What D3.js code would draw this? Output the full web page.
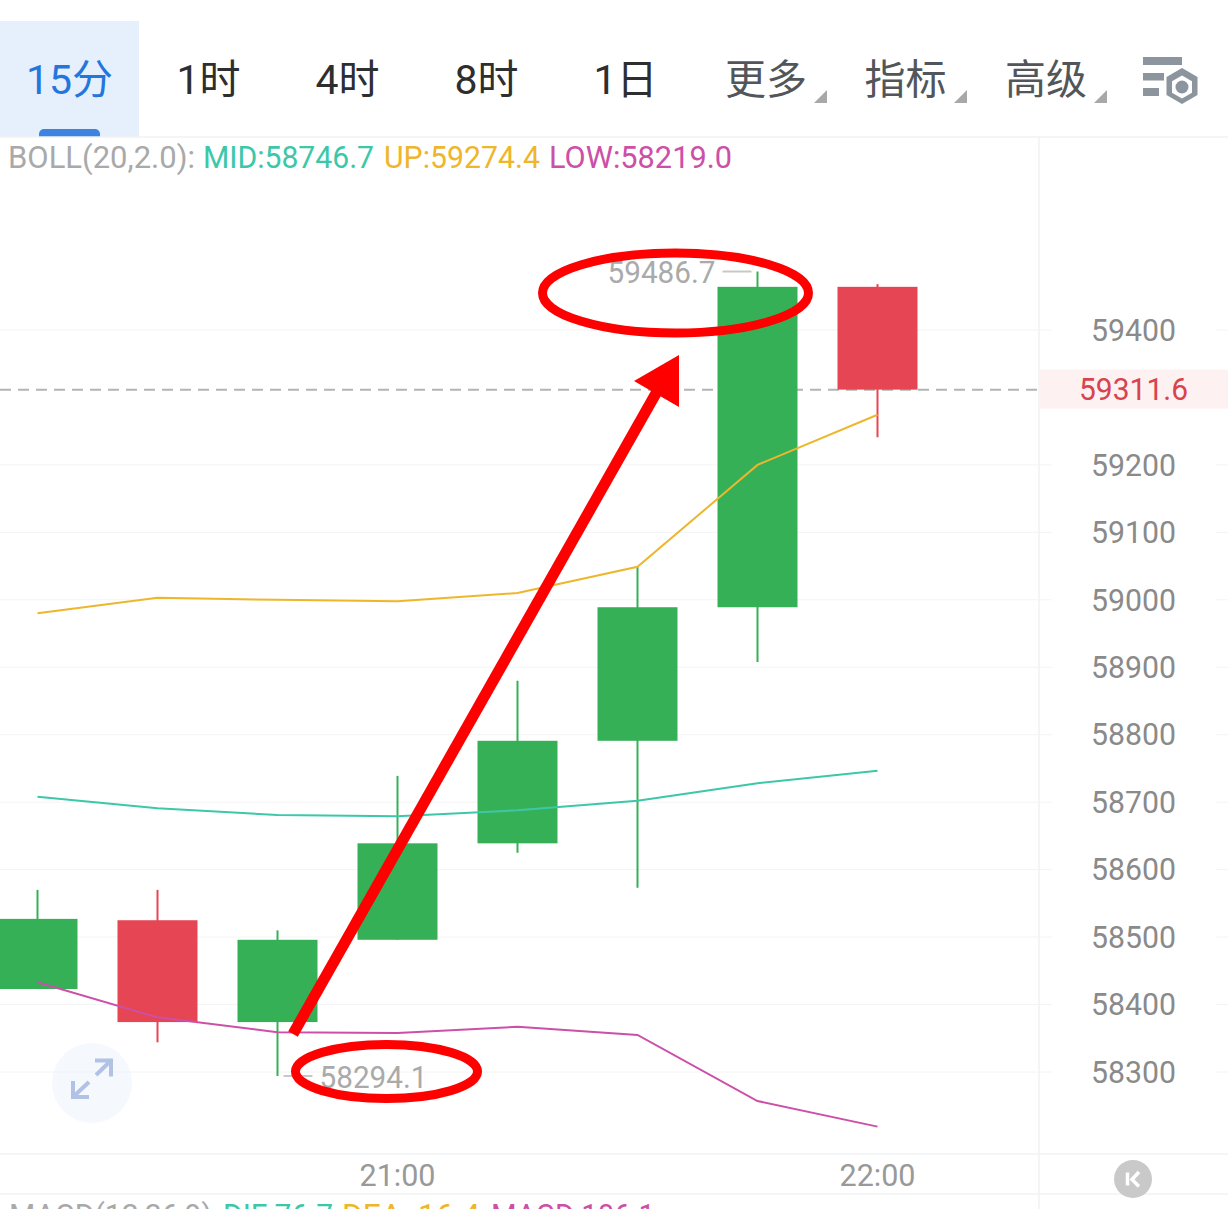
<!DOCTYPE html>
<html>
<head>
<meta charset="utf-8">
<script src="https://cdn.jsdelivr.net/npm/d3@7/dist/d3.min.js"></script>
<style>
  html, body { margin: 0; padding: 0; background: #fff; overflow: hidden; }
  svg { display: block; }
  text { font-family: Roboto, "Noto Sans CJK SC", sans-serif; }
</style>
</head>
<body>
<svg id="chart" width="1228" height="1209"></svg>
<script>
// 15-minute candles with Bollinger bands
const opens  = [58423, 58525, 58374, 58496, 58639, 58791, 58989, 59464];
const closes = [58527, 58374, 58496, 58639, 58791, 58989, 59464, 59311.6];
const highs  = [58570, 58570, 58510, 58739, 58880, 59050, 59486.7, 59468];
const lows   = [58423, 58344, 58294.1, 58496, 58625, 58573, 58908, 59241];
const bollUp  = [58980, 59003, 59000, 58998, 59010, 59049, 59200, 59274.4];
const bollMid = [58708, 58691, 58681, 58679, 58688, 58702, 58728, 58746.7];
const bollLow = [58433, 58381, 58359, 58358, 58367, 58355, 58257, 58219];
const priceTicks = [59400, 59200, 59100, 59000, 58900, 58800, 58700, 58600, 58500, 58400, 58300];
const timeLabels = [{ index: 3, label: "21:00" }, { index: 7, label: "22:00" }];
const tabs = ["15分", "1时", "4时", "8时", "1日"];
const menus = ["更多", "指标", "高级"];
const lastPrice = 59311.6;
const highPrice = 59486.7;
const lowPrice = 58294.1;

const up = "#36b057", down = "#e64553";
const plotRight = 1039;

const svg = d3.select("#chart");
const x = d3.scaleLinear().domain([0, 7]).range([37.5, 877.5]);
const y = d3.scaleLinear().domain([58300, 59400]).range([1072, 330]);
const candleWidth = 80;

// Top tab bar
const header = svg.append("g");
header.append("rect").attr("x", 0).attr("y", 21).attr("width", 139).attr("height", 116).attr("fill", "#e6effc");
header.append("path").attr("d", "M39 137v-3a5 5 0 0 1 5-5h51a5 5 0 0 1 5 5v3z").attr("fill", "#3f83e0");
const tabX = d3.scalePoint().domain(tabs).range([69.5, 625.5]);
header.selectAll("text.tab").data(tabs).join("text").attr("class", "tab")
  .attr("x", d => tabX(d)).attr("y", 94).attr("text-anchor", "middle")
  .attr("font-size", 41).attr("fill", (d, i) => i === 0 ? "#2476dc" : "#2c2e30").text(d => d);
const menuX = d3.scalePoint().domain(menus).range([766, 1046]);
header.selectAll("text.menu").data(menus).join("text").attr("class", "menu")
  .attr("x", (d, i) => menuX(d) - (i === 1 ? 0.5 : 0)).attr("y", 94).attr("text-anchor", "middle")
  .attr("font-size", 41).attr("fill", "#52565a").text(d => d);
header.selectAll("path.caret").data(menus).join("path").attr("class", "caret")
  .attr("transform", d => `translate(${menuX(d) + 49},90)`)
  .attr("d", "M12 0v13h-13z").attr("fill", "#a8a8a8");

// Settings glyph: three bars and a hex nut
const gear = header.append("g").attr("fill", "#8c949e");
gear.append("rect").attr("x", 1143).attr("y", 57).attr("width", 39).attr("height", 8);
gear.append("rect").attr("x", 1143).attr("y", 73).attr("width", 21).attr("height", 7.5);
gear.append("rect").attr("x", 1143).attr("y", 88).attr("width", 16).attr("height", 8);
gear.append("path").attr("d", "M1182 68l15.5 9v18l-15.5 9-15.5-9v-18z");
gear.append("path").attr("d", "M1182 75.5l10 5.7v11.6l-10 5.7-10-5.7v-11.6z").attr("fill", "#fff");
gear.append("circle").attr("cx", 1182).attr("cy", 87).attr("r", 6.5);

// Panel frame
const frame = svg.append("g").attr("stroke", "#f1f2f4").attr("stroke-width", 1.5);
frame.append("line").attr("x1", 0).attr("x2", 1228).attr("y1", 137).attr("y2", 137);
frame.append("line").attr("x1", 0).attr("x2", 1228).attr("y1", 1154).attr("y2", 1154);
frame.append("line").attr("x1", 0).attr("x2", 1228).attr("y1", 1194).attr("y2", 1194);
frame.append("line").attr("x1", plotRight).attr("x2", plotRight).attr("y1", 137).attr("y2", 1209);

// Price gridlines
const grid = svg.append("g").attr("stroke", "#f3f4f5").attr("stroke-width", 1);
grid.selectAll("line.main").data(priceTicks).join("line").attr("class", "main")
  .attr("x1", 0).attr("x2", 1052).attr("y1", d => y(d)).attr("y2", d => y(d));
grid.selectAll("line.edge").data(priceTicks).join("line").attr("class", "edge")
  .attr("x1", 1216).attr("x2", 1228).attr("y1", d => y(d)).attr("y2", d => y(d));

// Last-price marker, under the candles
svg.append("rect").attr("x", plotRight + 1).attr("y", y(lastPrice) - 20).attr("width", 189).attr("height", 39).attr("fill", "#fdf1f1");
svg.append("line").attr("x1", 0).attr("x2", plotRight).attr("y1", y(lastPrice)).attr("y2", y(lastPrice))
  .attr("stroke", "#b4b4b4").attr("stroke-width", 2).attr("stroke-dasharray", "11 7");

// Candles
const candleData = opens.map((o, i) => ({ i, o, c: closes[i], h: highs[i], l: lows[i] }));
const candleColor = d => d.c >= d.o ? up : down;
const candles = svg.append("g");
candles.selectAll("line").data(candleData).join("line")
  .attr("x1", d => x(d.i)).attr("x2", d => x(d.i))
  .attr("y1", d => y(d.h)).attr("y2", d => y(d.l))
  .attr("stroke", candleColor).attr("stroke-width", 2);
candles.selectAll("rect").data(candleData).join("rect")
  .attr("x", d => x(d.i) - candleWidth / 2).attr("width", candleWidth)
  .attr("y", d => y(Math.max(d.o, d.c)))
  .attr("height", d => Math.abs(y(d.o) - y(d.c)))
  .attr("fill", candleColor);

// Bollinger bands
const bandLine = d3.line().x((d, i) => x(i)).y(d => y(d));
[[bollUp, "#eeb62c"], [bollMid, "#3cc8a8"], [bollLow, "#cc4fa8"]].forEach(([values, color]) => {
  svg.append("path").attr("d", bandLine(values)).attr("fill", "none").attr("stroke", color).attr("stroke-width", 2);
});

// Indicator legend
const legend = [
  { t: "BOLL(20,2.0):", x0: 8, w: 187, c: "#a9a9a9" },
  { t: "MID:58746.7", x0: 203, w: 171, c: "#3cc8a8" },
  { t: "UP:59274.4", x0: 384, w: 156, c: "#eeb62c" },
  { t: "LOW:58219.0", x0: 549, w: 183, c: "#cc4fa8" }
];
svg.append("g").selectAll("text").data(legend).join("text")
  .attr("x", d => d.x0).attr("y", 168).attr("font-size", 31)
  .attr("textLength", d => d.w).attr("lengthAdjust", "spacingAndGlyphs")
  .attr("fill", d => d.c).text(d => d.t);

// Lower indicator caption, running off the panel
const macd = [
  { t: "MACD(12,26,9)", x0: 9, w: 203, c: "#a9a9a9" },
  { t: "DIF:76.7", x0: 223, w: 110, c: "#3cc8a8" },
  { t: "DEA:-16.4", x0: 342, w: 138, c: "#eeb62c" },
  { t: "MACD:186.1", x0: 491, w: 164, c: "#cc4fa8" }
];
svg.append("g").selectAll("text").data(macd).join("text")
  .attr("x", d => d.x0).attr("y", 1226).attr("font-size", 31)
  .attr("textLength", d => d.w).attr("lengthAdjust", "spacingAndGlyphs")
  .attr("fill", d => d.c).text(d => d.t);

// Price axis
const yAxis = d3.axisRight(y).tickValues(priceTicks).tickSize(0).tickPadding(0).tickFormat(d3.format("d"));
const yAxisG = svg.append("g").attr("transform", "translate(1091,0)").call(yAxis);
yAxisG.select(".domain").remove();
yAxisG.selectAll("text").attr("font-size", 31).attr("fill", "#8a8a8a").attr("dy", "0.33em")
  .attr("textLength", 85).attr("lengthAdjust", "spacingAndGlyphs");
svg.append("text").attr("x", 1079).attr("y", y(lastPrice)).attr("dy", "0.35em")
  .attr("font-size", 31).attr("fill", "#d9434e")
  .attr("textLength", 109).attr("lengthAdjust", "spacingAndGlyphs").text(lastPrice.toFixed(1));

// Time axis
svg.append("g").selectAll("text").data(timeLabels).join("text")
  .attr("x", d => x(d.index)).attr("y", 1186).attr("text-anchor", "middle")
  .attr("font-size", 31).attr("fill", "#999")
  .attr("textLength", 76).attr("lengthAdjust", "spacingAndGlyphs").text(d => d.label);

// High and low callouts
svg.append("line").attr("x1", x(6) - 35).attr("x2", x(6) - 6).attr("y1", y(highPrice)).attr("y2", y(highPrice)).attr("stroke", "#c8c8c8").attr("stroke-width", 2);
svg.append("text").attr("x", x(6) - 42).attr("y", y(highPrice) + 1).attr("dy", "0.35em").attr("text-anchor", "end")
  .attr("font-size", 31).attr("fill", "#aaa").attr("textLength", 108).attr("lengthAdjust", "spacingAndGlyphs").text(highPrice.toFixed(1));
svg.append("line").attr("x1", x(2) + 6).attr("x2", x(2) + 35).attr("y1", y(lowPrice)).attr("y2", y(lowPrice)).attr("stroke", "#c8c8c8").attr("stroke-width", 2);
svg.append("text").attr("x", x(2) + 42).attr("y", y(lowPrice) + 1).attr("dy", "0.35em")
  .attr("font-size", 31).attr("fill", "#aaa").attr("textLength", 108).attr("lengthAdjust", "spacingAndGlyphs").text(lowPrice.toFixed(1));

// Expand button
const expand = svg.append("g");
expand.append("circle").attr("cx", 92).attr("cy", 1083).attr("r", 40).attr("fill", "#edf3fc").attr("opacity", 0.55);
expand.append("path").attr("d", "M95 1060.5h16v16M111 1060.5L96 1075M73 1081v16h16M73 1097L89 1082")
  .attr("fill", "none").attr("stroke", "#b2c2e4").attr("stroke-width", 4);

// Return-to-latest button
svg.append("circle").attr("cx", 1133).attr("cy", 1179).attr("r", 19).attr("fill", "#c9c9c9");
svg.append("path").attr("d", "M1127.5 1172.5v13M1139 1172l-7 7.5 7 7").attr("fill", "none").attr("stroke", "#fff").attr("stroke-width", 3.5);

// Hand-drawn red annotations
const red = "#fe0000";
svg.append("ellipse").attr("cx", 675.5).attr("cy", 293).attr("rx", 133).attr("ry", 40)
  .attr("fill", "none").attr("stroke", red).attr("stroke-width", 9);
svg.append("ellipse").attr("cx", 386.5).attr("cy", 1071.5).attr("rx", 91).attr("ry", 27)
  .attr("fill", "none").attr("stroke", red).attr("stroke-width", 9);
svg.append("line").attr("x1", 293).attr("y1", 1034).attr("x2", 659).attr("y2", 388)
  .attr("stroke", red).attr("stroke-width", 11);
svg.append("path").attr("d", "M679 355L634 381L679 407z").attr("fill", red);
</script>
</body>
</html>
